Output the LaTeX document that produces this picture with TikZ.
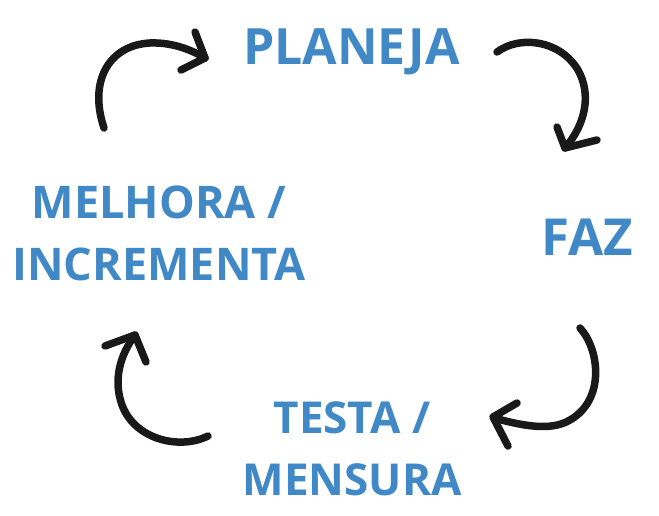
\documentclass[tikz,border=0pt]{standalone}
\usepackage{fontspec}
\setmainfont{Open Sans}
\definecolor{lblue}{RGB}{65,136,198}
\begin{document}
\begin{tikzpicture}[x=1pt,y=-1pt,
  lbl/.style={text=lblue,font=\bfseries\fontsize{#1}{62}\selectfont,inner sep=0pt,align=center,anchor=base},
  stroke/.style={line width=7.5pt,line cap=round,line join=round,black!90}]
\useasboundingbox (0,0) rectangle (659,516);
\node[lbl=50] (plan) at (351.5,65) {PLANEJA};
\node[lbl=51] (faz) at (587.5,255) {FAZ};
\node[lbl=45] (melh) at (159,280) {MELHORA /\\INCREMENTA};
\node[lbl=44] (test) at (352,495) {TESTA /\\MENSURA};
% arrow 1
\draw[stroke] (104,128) .. controls (88,80) and (110,45) .. (150,43) .. controls (175,42) and (195,52) .. (205,58);
\draw[stroke] (195,32) -- (205,58) -- (181,70);
% arrow 2
\draw[stroke] (497,52) .. controls (520,35) and (560,40) .. (578,70) .. controls (592,95) and (585,125) .. (565,148);
\draw[stroke] (557,127) -- (565,148) -- (597,140);
% arrow 3
\draw[stroke] (580,328) .. controls (600,350) and (605,400) .. (570,420) .. controls (550,432) and (520,425) .. (494,418);
\draw[stroke] (517,403) -- (493,417) -- (508,446);
% arrow 4
\draw[stroke] (208,436) .. controls (180,450) and (135,440) .. (122,405) .. controls (113,380) and (120,355) .. (135,335);
\draw[stroke] (105,346) -- (135,335) -- (146,362);
\end{tikzpicture}
\end{document}
